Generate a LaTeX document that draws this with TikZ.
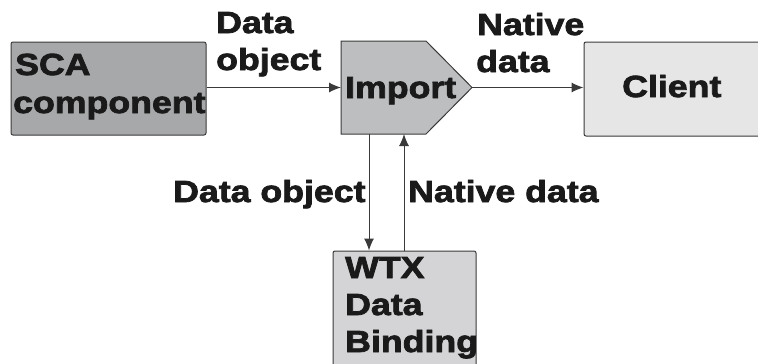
\documentclass[tikz,border=0pt]{standalone}
\usepackage{fontspec}
\newfontfamily\hv{Liberation Sans Bold}[FakeStretch=1.17,FakeBold=2.5]
\usetikzlibrary{arrows.meta}
\definecolor{scagray}{HTML}{A7A8AA}
\definecolor{impgray}{HTML}{BDBEC0}
\definecolor{cligray}{HTML}{E6E6E7}
\definecolor{wtxgray}{HTML}{D4D4D6}
\definecolor{edge}{HTML}{3A3A3A}
\definecolor{ink}{HTML}{1A1A1A}
\tikzset{
  box/.style={draw=edge, line width=1pt, rounded corners=2pt, inner sep=0pt},
  lbl/.style={anchor=base west, inner sep=0pt, text=ink, font=\hv\fontsize{30.5}{36}\selectfont},
  conn/.style={draw=edge, line width=1pt, -{Latex[length=12pt,width=10pt]}}
}
\begin{document}
\begin{tikzpicture}[x=1pt,y=-1pt]
\useasboundingbox (0,0) rectangle (758,364);
% boxes
\node (sca) [box, fill=scagray, minimum width=195pt, minimum height=93pt] at (108.5,88.5) {};
\node (cli) [box, fill=cligray, minimum width=180pt, minimum height=94pt] at (674,89) {};
\node (wtx) [box, fill=wtxgray, minimum width=143pt, minimum height=124pt] at (404.5,313) {};
% import pentagon
\coordinate (impnw) at (341,41);
\coordinate (impne) at (426,41);
\coordinate (imptip) at (472,87.5);
\coordinate (impse) at (426,134);
\coordinate (impsw) at (341,134);
\filldraw[fill=impgray, draw=edge, line width=1pt] (impnw) -- (impne) -- (imptip) -- (impse) -- (impsw) -- cycle;
\coordinate (impw) at (341,87.5);
\coordinate (impdown) at (369,134);
\coordinate (impup) at (404,134);
% texts in boxes
\node[lbl] (t1) at (15,75) {SCA};
\node[lbl] (t2) at (13,113) {component};
\node[lbl] (t3) at (345,98) {Import};
\node[lbl] (t4) at (622,97) {Client};
\node[lbl] (t5) at (345,278) {WTX};
\node[lbl] (t6) at (345,315) {Data};
\node[lbl] (t7) at (345,352) {Binding};
% connectors
\draw[conn] (sca.east |- impw) -- (impw);
\draw[conn] (imptip) -- (cli.west |- imptip);
\draw[conn] (impdown) -- (impdown |- wtx.north);
\draw[conn] (impup |- wtx.north) -- (impup);
% connector labels
\node[lbl] (l1) at (216,33) {Data};
\node[lbl] (l2) at (216,70) {object};
\node[lbl] (l3) at (477,35) {Native};
\node[lbl] (l4) at (476,72) {data};
\node[lbl] (l5) at (173,202) {Data object};
\node[lbl] (l6) at (408,202) {Native data};
\end{tikzpicture}
\end{document}
